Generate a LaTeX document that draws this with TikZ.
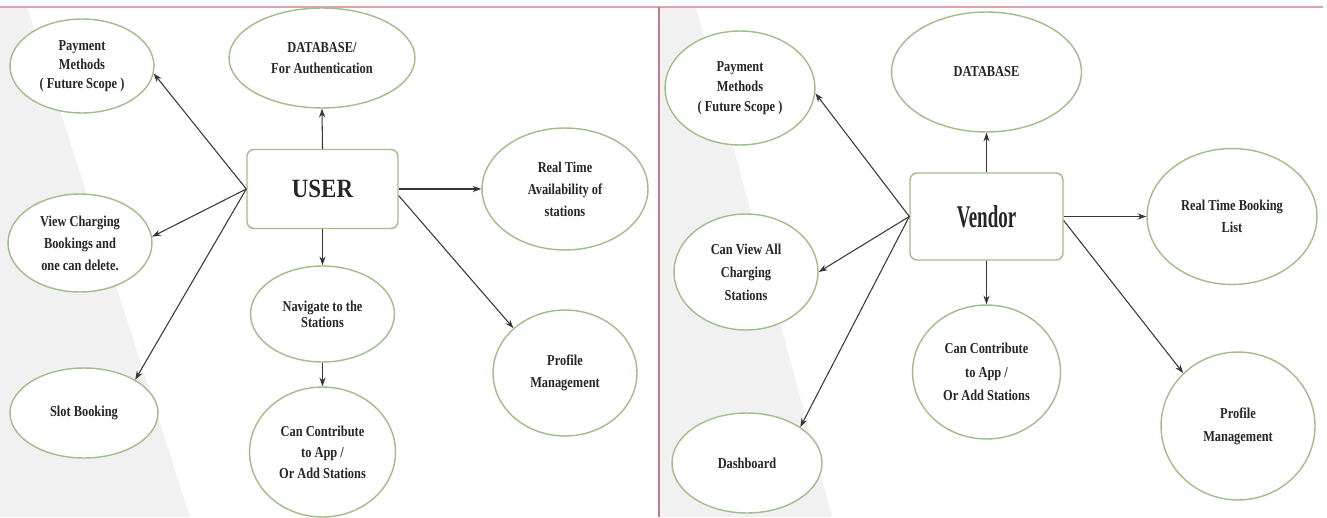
\documentclass[tikz,border=0pt]{standalone}
\usepackage{fontspec}
\setmainfont{Liberation Serif}
\newfontfamily\condserif[FakeStretch=0.82]{Liberation Serif}
\newfontfamily\userfont[FakeStretch=0.87]{Liberation Serif}
\newfontfamily\vendfont[FakeStretch=0.6]{Liberation Serif}
\usetikzlibrary{shapes.geometric,arrows.meta}
\definecolor{egreen}{RGB}{160,190,135}
\definecolor{agrey}{RGB}{55,55,55}
\definecolor{wedge}{RGB}{241,241,241}
\definecolor{topline}{RGB}{225,160,170}
\definecolor{divider}{RGB}{200,120,130}
\tikzset{
  ls/.style={font=\condserif\bfseries\fontsize{8.6}{#1}\selectfont},
  ell/.style 2 args={ellipse, draw=egreen, line width=0.8pt, fill=white,
    inner sep=0pt, minimum width=#1*0.04cm, minimum height=#2*0.04cm,
    align=center, text=black!85, ls=10.8pt},
  boxnode/.style 2 args={rectangle, rounded corners=4pt, draw=egreen, line width=0.8pt,
    fill=white, inner sep=0pt, minimum width=#1*0.02cm, minimum height=#2*0.02cm, text=black!85},
  arr/.style={draw=agrey, line width=0.6pt, -{Stealth[length=5pt,width=3.5pt]}},
}
\begin{document}
\begin{tikzpicture}[x=0.02cm,y=-0.02cm]
\useasboundingbox (0,0) rectangle (1327,517);
\fill[white] (0,0) rectangle (1327,517);
\fill[wedge] (0,7) -- (27,7) -- (190,517) -- (0,517) -- cycle;
\fill[wedge] (660,7) -- (696,7) -- (832,517) -- (660,517) -- cycle;
\draw[topline, line width=0.8pt] (0,7) -- (1323,7);
\draw[divider, line width=0.8pt] (659,7) -- (659,517);

% ---------- USER panel ----------
\node[ell={72}{47}, ls=11pt] (pay) at (82,66) {Payment\\Methods\\( Future Scope )};
\node[ell={93}{50}, ls=12pt] (db) at (322,58) {DATABASE/\\For Authentication};
\node[boxnode={151}{79}, font=\userfont\bfseries\fontsize{15}{15}\selectfont] (user) at (322.5,189) {USER};
\node[ell={83}{61}, ls=12.5pt] (rta) at (565,189) {Real Time\\Availability of\\stations};
\node[ell={72}{49}, ls=12.5pt] (view) at (80,243) {View Charging\\Bookings and\\one can delete.};
\node[ell={74}{45}] (slot) at (84,413) {Slot Booking};
\node[ell={72}{48}, ls=9pt] (nav) at (322.5,314) {Navigate to the\\Stations};
\node[ell={73}{65}, ls=12pt] (cc) at (322.5,452) {Can Contribute\\to App /\\Or Add Stations};
\node[ell={72}{63}, ls=12.5pt] (prof) at (565,373) {Profile\\Management};

\draw[arr] (user.north) -- (db.south);
\draw[arr] (user.west) -- (pay.-6);
\draw[arr] (user.west) -- (view.5);
\draw[arr] (user.west) -- (slot.33);
\draw[arr] (user.east) -- (rta.west);
\draw[arr] (user.-5) -- (prof.139);
\draw[arr] (user.south) -- (nav.north);
\draw[arr] (nav.south) -- (cc.north);

% ---------- Vendor panel ----------
\node[ell={75}{57}, ls=11.3pt] (vpay) at (740,88) {Payment\\Methods\\( Future Scope )};
\node[ell={95}{60}] (vdb) at (986.5,72) {DATABASE};
\node[boxnode={153}{87}, font=\vendfont\bfseries\fontsize{18}{18}\selectfont] (vend) at (986.5,216.5) {Vendor};
\node[ell={85}{68}, ls=12.5pt] (vrtb) at (1232,216.5) {Real Time Booking\\List};
\node[ell={72}{58}, ls=13pt] (vview) at (746,272) {Can View All\\Charging\\Stations};
\node[ell={75}{50}] (vdash) at (747,463) {Dashboard};
\node[ell={74}{67}, ls=13.5pt] (vcc) at (986.5,372) {Can Contribute\\to App /\\Or Add Stations};
\node[ell={77}{74}, ls=13pt] (vprof) at (1238,426) {Profile\\Management};

\draw[arr] (vend.north) -- (vdb.south);
\draw[arr] (vend.west) -- (vpay.-4);
\draw[arr] (vend.west) -- (vview.0);
\draw[arr] (vend.west) -- (vdash.34);
\draw[arr] (vend.east) -- (vrtb.west);
\draw[arr] (vend.-3) -- (vprof.136);
\draw[arr] (vend.south) -- (vcc.north);
\end{tikzpicture}
\end{document}
